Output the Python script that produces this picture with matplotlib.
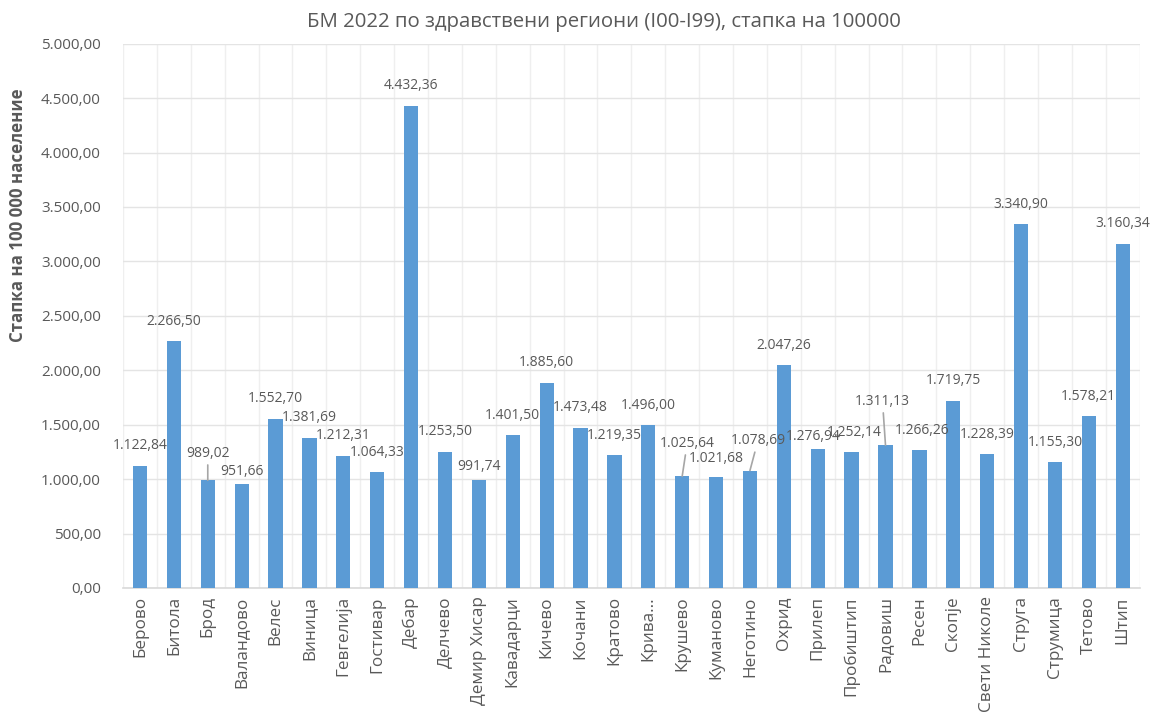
import matplotlib
matplotlib.use("Agg")
import matplotlib.pyplot as plt
import numpy as np

# Data
regions = ["Берово", "Битола", "Брод", "Валандово", "Велес", "Виница", "Гевгелија",
           "Гостивар", "Дебар", "Делчево", "Демир Хисар", "Кавадарци", "Кичево",
           "Кочани", "Кратово", "Крива Паланка", "Крушево", "Куманово", "Неготино",
           "Охрид", "Прилеп", "Пробиштип", "Радовиш", "Ресен", "Скопје",
           "Свети Николе", "Струга", "Струмица", "Тетово", "Штип"]
tick_labels = [r if r != "Крива Паланка" else "Крива..." for r in regions]
rates = [1122.84, 2266.50, 989.02, 951.66, 1552.70, 1381.69, 1212.31,
         1064.33, 4432.36, 1253.50, 991.74, 1401.50, 1885.60,
         1473.48, 1219.35, 1496.00, 1025.64, 1021.68, 1078.69,
         2047.26, 1276.94, 1252.14, 1311.13, 1266.26, 1719.75,
         1228.39, 3340.90, 1155.30, 1578.21, 3160.34]

# label offsets in pixels (dx, dy) where Excel labels were moved
label_offsets = {"Брод": (0, 27), "Валандово": (0, 13), "Демир Хисар": (0, 13),
                 "Крушево": (5, 33), "Куманово": (0, 18), "Неготино": (8, 30),
                 "Прилеп": (-5, 12), "Пробиштип": (3, 19), "Радовиш": (-3, 44),
                 "Ресен": (3, 20)}
leader_lines = {"Брод", "Крушево", "Неготино", "Радовиш"}

def fmt(v):
    s = f"{v:,.2f}"
    return s.replace(",", " ").replace(".", ",").replace(" ", ".")

plt.rcParams['font.family'] = ['Open Sans', 'Noto Sans', 'DejaVu Sans']
gray = "#595959"
bar_color = "#5B9BD5"

fig = plt.figure(figsize=(11.5, 7.17), dpi=100)
ax = fig.add_axes([0.107, 0.180, 0.884, 0.759])

x = np.arange(len(regions))
ax.bar(x, rates, width=0.42, color=bar_color, zorder=3)

for i, (name, v) in enumerate(zip(regions, rates)):
    dx, dy = label_offsets.get(name, (0, 20))
    arrow = dict(arrowstyle='-', color="#A6A6A6", lw=1.2, shrinkA=1, shrinkB=0) if name in leader_lines else None
    ax.annotate(fmt(v), xy=(i, v), xytext=(dx, dy),
                textcoords='offset pixels', ha='center', va='center',
                fontsize=10, color=gray, arrowprops=arrow, zorder=4)

ax.set_xlim(-0.5, len(regions) - 0.5)
ax.set_ylim(0, 5000)
ax.set_yticks(np.arange(0, 5001, 500))
ax.set_yticklabels([fmt(t) for t in np.arange(0, 5001, 500)], fontsize=11, color=gray)
ax.set_xticks(x)
ax.set_xticklabels(tick_labels, rotation=90, fontsize=12.3, color=gray)
ax.set_xticks(np.arange(-0.5, len(regions), 0.5), minor=True)
ax.tick_params(axis='both', which='both', length=0)
ax.tick_params(axis='x', pad=6)
ax.tick_params(axis='y', pad=16)

ax.grid(axis='y', color="#E4E4E4", lw=1, zorder=0)
ax.grid(axis='x', which='minor', color="#EFEFEF", lw=1, zorder=0)
for s in ['top', 'right', 'left']:
    ax.spines[s].set_visible(False)
ax.spines['bottom'].set_color("#D9D9D9")
ax.spines['bottom'].set_linewidth(1.2)

fig.text(0.016, 0.70, "Стапка на 100 000 население", rotation=90, ha='center', va='center',
         fontsize=12.2, fontweight='bold', color=gray)
fig.text(0.525, 0.969, "БМ 2022 по здравствени региони (I00-I99), стапка на 100000",
         ha='center', va='center', fontsize=14.7, color=gray)

fig.savefig("out.png", dpi=100)
